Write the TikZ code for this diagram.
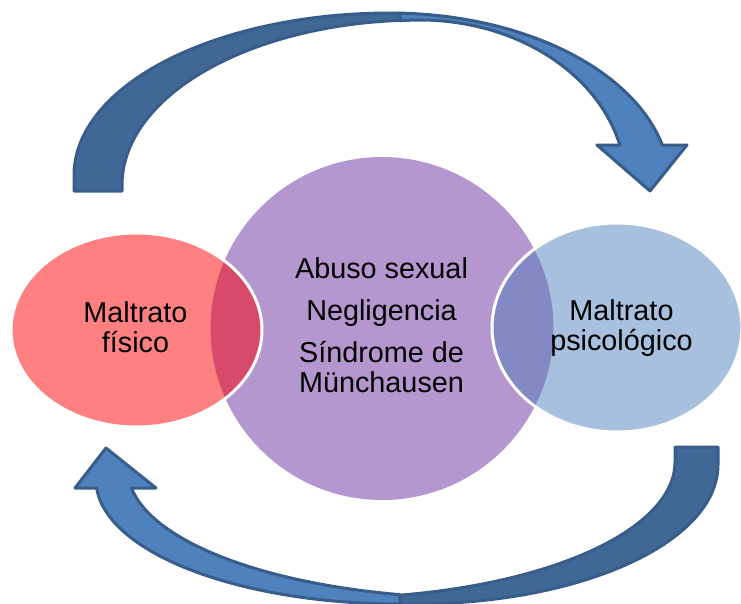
\documentclass[tikz,border=0pt]{standalone}
\usepackage{fontspec}
\setmainfont{Liberation Sans}
\definecolor{purp}{HTML}{B597CF}
\definecolor{redf}{HTML}{FF8080}
\definecolor{redov}{HTML}{D84A69}
\definecolor{bluef}{HTML}{A7C0DE}
\definecolor{blueov}{HTML}{8389C5}
\definecolor{arrdark}{HTML}{406897}
\definecolor{arrlight}{HTML}{4F81BD}
\definecolor{arrline}{HTML}{385D8A}
\begin{document}
\begin{tikzpicture}[x=1pt,y=-1pt,
  lbl/.style={inner sep=0pt, align=center, text=black, font=\fontsize{28.8}{30}\selectfont},
  arrowdark/.style={fill=arrdark, draw=arrline, line width=3pt, line join=round},
  arrowlight/.style={fill=arrlight, draw=arrline, line width=3pt, line join=round},
  rim/.style={draw=white, line width=3pt}]
\useasboundingbox (0,0) rectangle (741,603);
\coordinate (cP) at (382,328.5);
\coordinate (cR) at (136.5,330);
\coordinate (cB) at (617,327.5);
% purple circle
\fill[purp] (cP) circle [radius=171.5];
% red ellipse
\fill[redf] (cR) ellipse [x radius=125.5, y radius=97];
\begin{scope}
  \clip (cR) ellipse [x radius=125.5, y radius=97];
  \fill[redov] (cP) circle [radius=171.5];
\end{scope}
\draw[rim] (cR) ellipse [x radius=125.5, y radius=97];
% blue ellipse
\fill[bluef] (cB) ellipse [x radius=125, y radius=104.5];
\begin{scope}
  \clip (cB) ellipse [x radius=125, y radius=104.5];
  \fill[blueov] (cP) circle [radius=171.5];
\end{scope}
\draw[rim] (cB) ellipse [x radius=125, y radius=104.5];
% top arrow, dark part
\path[arrowdark] (74,191) -- (74,175)
  -- plot[variable=\u, domain=0:90, samples=50] ({390-316*cos(\u)},{175-162*sin(\u)})
  -- (400,13)
  -- plot[variable=\u, domain=86.15:0, samples=50] ({420-298*cos(\u)},{185-165*sin(\u)})
  -- (122,191) -- cycle;
% top arrow, light part
\path[arrowlight] plot[variable=\u, domain=87.95:13.45, samples=50] ({390+280*cos(\u)},{185-172*sin(\u)})
  -- (687,145) -- (650,191) -- (597,145)
  -- plot[variable=\u, domain=14.03:95.57, samples=50] ({420+206*cos(\u)},{185-165*sin(\u)})
  -- cycle;
% bottom arrow, dark part
\path[arrowdark] (675,447) -- (718,447) -- (718,465)
  -- plot[variable=\u, domain=0:90, samples=50] ({415+303*cos(\u)},{465+139*sin(\u)})
  -- (400,604)
  -- plot[variable=\u, domain=78.29:0, samples=50] ({330+345*cos(\u)},{462+136*sin(\u)})
  -- cycle;
% bottom arrow, light part
\path[arrowlight] (75,488) -- (106,448) -- (156,488)
  -- plot[variable=\u, domain=8.08:76.86, samples=50] ({480-352*cos(\u)},{470+128*sin(\u)})
  -- (400,604)
  -- plot[variable=\u, domain=90:3.7, samples=50] ({400-304*cos(\u)},{480+124*sin(\u)})
  -- cycle;
% labels
\node[lbl] (fis) at (135.5,327.5) {Maltrato\\físico};
\node[lbl] (psi) at (621.5,328.5) {Maltrato\\psicológico};
\node[lbl] (mid) at (381.5,325) {Abuso sexual\\[12pt]Negligencia\\[12pt]Síndrome de\\Münchausen};
\end{tikzpicture}
\end{document}
